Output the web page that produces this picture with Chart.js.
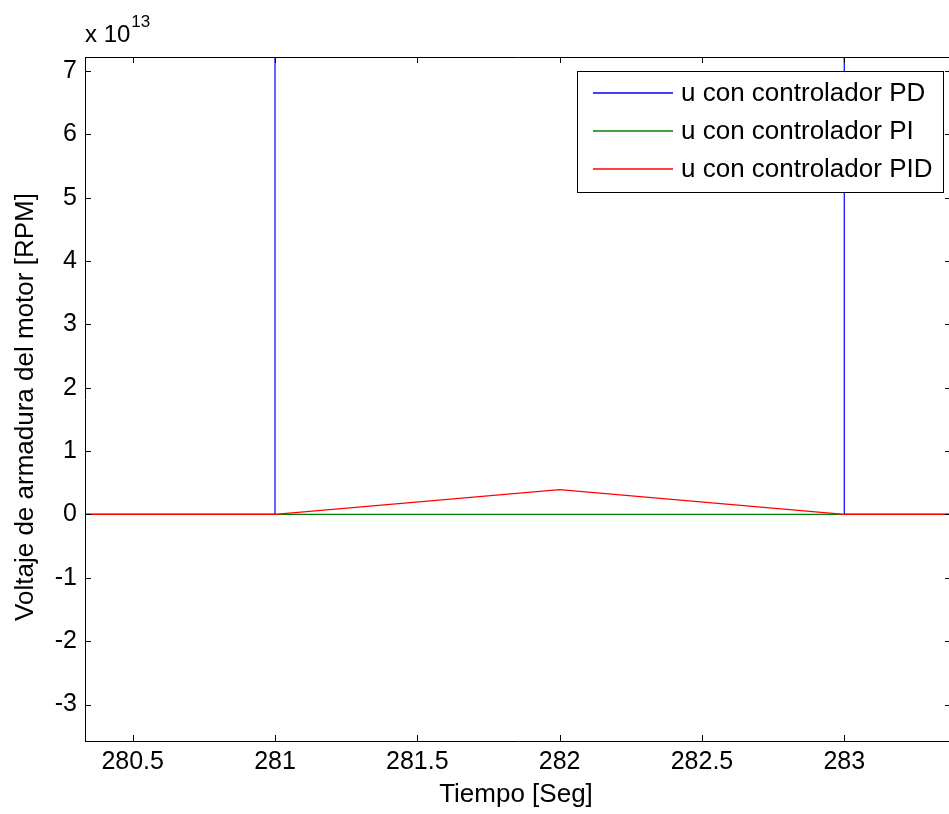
<!DOCTYPE html>
<html><head><meta charset="utf-8">
<script src="https://cdn.jsdelivr.net/npm/chart.js@4.4.0/dist/chart.umd.min.js"></script>
<style>html,body{margin:0;padding:0;background:#fff;overflow:hidden;width:949px;height:814px}</style>
</head><body><canvas id="c" width="953" height="814" style="display:block;width:953px;height:814px"></canvas>
<script>
// ---- data (values in volts; the axis shows them in units of 1e13) ----
const tiempo   = [280, 281, 282, 283, 284];
const uPI      = [0, 0, 0, 0, 0];
const uPID     = [0, 0, 0.39e13, 0, 0];
// PD jumps far off-scale at t=281 and comes back at t=283
const tiempoPD = [280, 281, 281, 283, 283, 284];
const uPD      = [0, 0, 1.0e17, 1.0e17, 0, 0];
const seriesLabels = ['u con controlador PD', 'u con controlador PI', 'u con controlador PID'];
const seriesColors = ['#0000ff', '#008000', '#ff0000'];
const xTicks = [280.5, 281, 281.5, 282, 282.5, 283];
const yTicks = [-3, -2, -1, 0, 1, 2, 3, 4, 5, 6, 7];
const yExponent = 13;
const xTitle = 'Tiempo [Seg]';
const yTitle = 'Voltaje de armadura del motor [RPM]';

const FONT = '"Liberation Sans", Arial, Helvetica, sans-serif';
const escala = Math.pow(10, yExponent);
const pts = (ts, arr) => ts.map((t, i) => ({x: t, y: arr[i]}));

const frame = {
  id: 'frame',
  afterDraw(chart) {
    const ctx = chart.ctx, a = chart.chartArea;
    const xs = chart.scales.x, ys = chart.scales.y;
    ctx.save();
    ctx.strokeStyle = '#000'; ctx.lineWidth = 1;
    ctx.beginPath();
    ctx.moveTo(a.left + 0.5, a.bottom + 0.5); ctx.lineTo(a.right + 0.5, a.bottom + 0.5);
    ctx.moveTo(a.left + 0.5, a.top + 0.5); ctx.lineTo(a.right + 0.5, a.top + 0.5);
    ctx.moveTo(a.left + 0.5, a.top); ctx.lineTo(a.left + 0.5, a.bottom + 1);
    ctx.moveTo(a.right + 0.5, a.top); ctx.lineTo(a.right + 0.5, a.bottom + 1);
    const tl = 6;
    xTicks.forEach(v => {
      const px = Math.round(xs.getPixelForValue(v)) + 0.5;
      ctx.moveTo(px, a.bottom); ctx.lineTo(px, a.bottom - tl);
      ctx.moveTo(px, a.top); ctx.lineTo(px, a.top + tl);
    });
    yTicks.forEach(v => {
      const py = Math.round(ys.getPixelForValue(v * escala)) + 0.5;
      ctx.moveTo(a.left, py); ctx.lineTo(a.left + tl, py);
      ctx.moveTo(a.right, py); ctx.lineTo(a.right - tl, py);
    });
    ctx.stroke();

    // legend
    const L = 577, T = 71, W = 366, H = 121;
    ctx.fillStyle = '#fff'; ctx.fillRect(L, T, W, H);
    ctx.strokeStyle = '#000';
    ctx.strokeRect(L + 0.5, T + 0.5, W, H);
    ctx.font = '26px ' + FONT; ctx.textBaseline = 'middle'; ctx.textAlign = 'left';
    chart.data.datasets.forEach((ds, i) => {
      const y = T + 22 + i * 38;
      ctx.strokeStyle = seriesColors[i]; ctx.lineWidth = 1.3;
      ctx.beginPath(); ctx.moveTo(593, y); ctx.lineTo(673, y); ctx.stroke();
      ctx.fillStyle = '#000'; ctx.fillText(ds.label, 681, y + 1);
    });

    // exponent
    ctx.fillStyle = '#000'; ctx.textBaseline = 'alphabetic';
    ctx.font = '24px ' + FONT; ctx.fillText('x 10', 85, 42);
    const w = ctx.measureText('x 10').width;
    ctx.font = '17px ' + FONT; ctx.fillText(String(yExponent), 85 + w + 1, 27);

    // axis titles
    ctx.font = '26px ' + FONT; ctx.textAlign = 'center'; ctx.textBaseline = 'alphabetic';
    ctx.fillText(xTitle, 516, 802);
    ctx.save(); ctx.translate(33, 407); ctx.rotate(-Math.PI / 2);
    ctx.fillText(yTitle, 0, 0); ctx.restore();
    ctx.restore();
  }
};

new Chart(document.getElementById('c'), {
  type: 'line',
  data: {
    datasets: [[tiempoPD, uPD], [tiempo, uPI], [tiempo, uPID]].map(([ts, arr], i) => ({
      label: seriesLabels[i], data: pts(ts, arr), borderColor: seriesColors[i],
      borderWidth: 1.2, pointRadius: 0, fill: false, tension: 0, order: 2 - i
    }))
  },
  options: {
    responsive: false, animation: false, devicePixelRatio: 1,
    layout: {padding: {top: 57, right: 2, left: 0, bottom: 0}},
    plugins: {legend: {display: false}, tooltip: {enabled: false}},
    scales: {
      x: {
        type: 'linear', min: 280.3325, max: 283.375,
        afterBuildTicks: s => { s.ticks = xTicks.map(v => ({value: v})); },
        afterFit: s => { s.height = 73; },
        grid: {display: false, drawTicks: false}, border: {display: false},
        ticks: {color: '#000', font: {family: FONT, size: 25}, padding: 6, maxRotation: 0,
                callback: v => String(v)}
      },
      y: {
        type: 'linear', min: -3.576 * escala, max: 7.22 * escala,
        afterBuildTicks: s => { s.ticks = yTicks.map(v => ({value: v * escala})); },
        afterFit: s => { s.width = 85; },
        grid: {display: false, drawTicks: false}, border: {display: false},
        ticks: {color: '#000', font: {family: FONT, size: 25}, padding: 8,
                callback: v => String(Math.round(v / escala))}
      }
    }
  },
  plugins: [frame]
});
</script></body></html>
